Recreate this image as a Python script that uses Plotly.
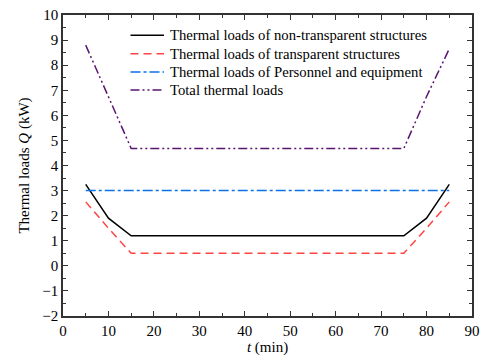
import plotly.graph_objects as go

# Time points (min)
t = [5, 10, 15, 20, 25, 30, 35, 40, 45, 50, 55, 60, 65, 70, 75, 80, 85]

# Thermal load components (kW)
non_transparent = [3.25, 1.9, 1.2, 1.2, 1.2, 1.2, 1.2, 1.2, 1.2, 1.2, 1.2, 1.2, 1.2, 1.2, 1.2, 1.9, 3.25]
transparent = [2.55, 1.5, 0.5, 0.5, 0.5, 0.5, 0.5, 0.5, 0.5, 0.5, 0.5, 0.5, 0.5, 0.5, 0.5, 1.5, 2.55]
personnel = [3.0] * 17
total = [8.8, 6.75, 4.68, 4.68, 4.68, 4.68, 4.68, 4.68, 4.68, 4.68, 4.68, 4.68, 4.68, 4.68, 4.68, 6.75, 8.65]

names = [
    "Thermal loads of non-transparent structures",
    "Thermal loads of transparent structures",
    "Thermal loads of Personnel and equipment",
    "Total thermal loads",
]
colors = ["#000000", "#FF4444", "#0A72E8", "#5A1470"]
dashes = ["solid", "8px,5px", "10px,3px,3px,3px", "9px,3px,2px,3px,2px,3px"]
series = [non_transparent, transparent, personnel, total]

fig = go.Figure()
for name, ys, c, d in zip(names, series, colors, dashes):
    fig.add_trace(go.Scatter(x=t, y=ys, mode="lines", name=name, showlegend=False,
                             line=dict(color=c, width=1.5, dash=d)))

# Compact legend drawn in paper coordinates: a line sample plus a label per row
legend_rows_y = [0.933, 0.871, 0.811, 0.751]
for name, c, d, ly in zip(names, colors, dashes, legend_rows_y):
    fig.add_shape(type="line", xref="paper", yref="paper",
                  x0=0.165, x1=0.247, y0=ly, y1=ly,
                  line=dict(color=c, width=1.5, dash=d))
    fig.add_annotation(xref="paper", yref="paper", x=0.256, y=ly,
                       xanchor="left", yanchor="middle", text=name, showarrow=False,
                       font=dict(family="Liberation Serif", size=14.7, color="#000"))

axis_common = dict(
    showline=True, linecolor="#333333", linewidth=1.5, mirror="ticks",
    ticks="inside", ticklen=5, tickwidth=1.2, tickcolor="#333333",
    showgrid=False, zeroline=False,
    tickfont=dict(family="Liberation Serif", size=15, color="#000"),
)

fig.update_layout(
    width=487, height=362,
    margin=dict(l=63, r=7, t=15, b=46),
    paper_bgcolor="white", plot_bgcolor="white",
    font=dict(family="Liberation Serif", size=14, color="#000"),
    xaxis=dict(range=[0, 90], dtick=10, tick0=0,
               minor=dict(ticks="inside", dtick=5, ticklen=3, tickcolor="#333333"),
               title=dict(text="<i>t</i> (min)", standoff=4,
                          font=dict(family="Liberation Serif", size=15)),
               **axis_common),
    yaxis=dict(range=[-2, 10], dtick=1, tick0=0,
               minor=dict(ticks="inside", dtick=0.5, ticklen=3, tickcolor="#333333"),
               title=dict(text="Thermal loads <i>Q</i> (kW)", standoff=9,
                          font=dict(family="Liberation Serif", size=15)),
               **axis_common),
)

fig.write_html("out.html")
